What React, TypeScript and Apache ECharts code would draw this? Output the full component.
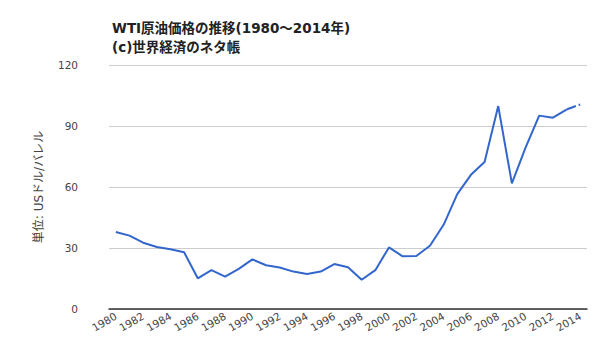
import React, { useEffect, useRef } from "react";
import * as echarts from "echarts";

const years = ["1980","1981","1982","1983","1984","1985","1986","1987","1988","1989","1990","1991","1992","1993","1994","1995","1996","1997","1998","1999","2000","2001","2002","2003","2004","2005","2006","2007","2008","2009","2010","2011","2012","2013","2014"];
const prices = [37.9,36.1,32.6,30.5,29.4,27.9,15.1,19.1,15.9,19.7,24.4,21.5,20.4,18.4,17.2,18.4,22.1,20.5,14.4,19.1,30.3,25.9,26.1,31.1,41.4,56.5,66.0,72.3,99.8,61.8,79.4,95.1,94.1,98.1,100.6];
const yTicks = [0, 30, 60, 90, 120];
const titleText = "WTI原油価格の推移(1980～2014年)\n(c)世界経済のネタ帳";
const yName = "単位: USドル/バレル";

const solid = prices.map((v, i) => (i <= prices.length - 2 ? v : null));
const dashed = prices.map((v, i) => (i >= prices.length - 2 ? v : null));

export default function App() {
  const ref = useRef<HTMLDivElement>(null);
  useEffect(() => {
    if (!ref.current) return;
    const chart = echarts.init(ref.current, null, { renderer: "svg" });
    const font = "'DejaVu Sans', 'Noto Sans CJK JP', sans-serif";
    chart.setOption({
      animation: false,
      backgroundColor: "#fff",
      title: {
        text: titleText,
        left: 107,
        top: 13,
        textStyle: { fontSize: 13.5, fontWeight: "bold", color: "#222", fontFamily: font, lineHeight: 19 },
      },
      grid: { left: 109, right: 13, top: 65, bottom: 51 },
      xAxis: {
        type: "category",
        data: years,
        boundaryGap: true,
        axisLine: { lineStyle: { color: "#333", width: 1.5 } },
        axisTick: { show: false },
        axisLabel: {
          interval: 1,
          rotate: 30,
          color: "#444",
          fontSize: 10.5,
          fontFamily: font,
          margin: 6,
        },
      },
      yAxis: {
        type: "value",
        min: yTicks[0],
        max: yTicks[yTicks.length - 1],
        interval: 30,
        name: yName,
        nameLocation: "middle",
        nameGap: 64,
        nameTextStyle: { color: "#444", fontSize: 12, fontFamily: font },
        axisLine: { show: false },
        axisTick: { show: false },
        axisLabel: { color: "#444", fontSize: 10.5, fontFamily: font, margin: 31 },
        splitLine: { lineStyle: { color: "#ccc" } },
      },
      series: [
        {
          type: "line",
          data: solid,
          symbol: "none",
          lineStyle: { color: "#3366cc", width: 2 },
          itemStyle: { color: "#3366cc" },
        },
        {
          type: "line",
          data: dashed,
          symbol: "none",
          lineStyle: { color: "#3366cc", width: 2, type: [10, 3] },
          itemStyle: { color: "#3366cc" },
        },
      ],
    });
    return () => chart.dispose();
  }, []);
  return <div ref={ref} style={{ position: "absolute", left: 0, top: 0, width: 600, height: 360 }} />;
}
